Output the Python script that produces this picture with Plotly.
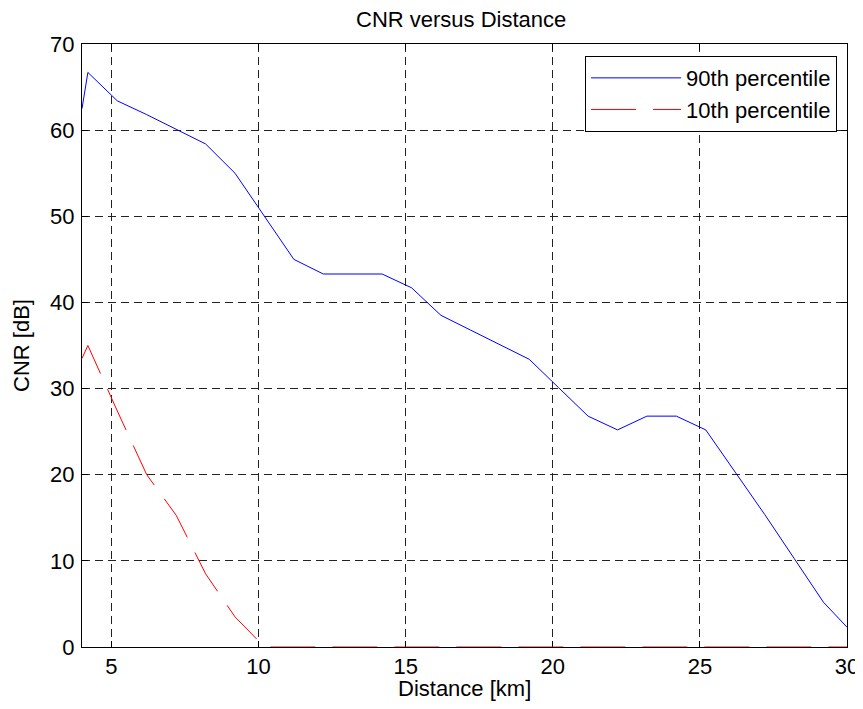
import plotly.graph_objects as go

distance_km = [4.0, 4.2, 5.2, 6.2, 7.2, 8.2, 9.2, 10.2, 11.2, 12.2, 13.2, 14.2,
               15.2, 16.2, 17.2, 18.2, 19.2, 20.2, 21.2, 22.2, 23.2, 24.2, 25.2,
               26.2, 27.2, 28.2, 29.2, 30.0]
cnr_90th = [62.5, 66.7, 63.4, 61.8, 60.1, 58.4, 55.0, 50.0, 45.0, 43.3, 43.3, 43.3,
            41.7, 38.5, 36.8, 35.1, 33.4, 30.1, 26.8, 25.2, 26.8, 26.8, 25.2,
            20.3, 15.4, 10.3, 5.2, 2.3]
cnr_10th = [33.5, 35.0, 27.4, 20.0, 15.3, 8.5, 3.5, 0, 0, 0, 0, 0,
            0, 0, 0, 0, 0, 0, 0, 0, 0, 0, 0,
            0, 0, 0, 0, 0]
x_ticks = [5, 10, 15, 20, 25, 30]
y_ticks = [0, 10, 20, 30, 40, 50, 60, 70]

FONT = "Liberation Sans, Arial, sans-serif"
FS = 22

fig = go.Figure()
fig.add_trace(go.Scatter(x=distance_km, y=cnr_90th, mode="lines", name="90th percentile",
                         line=dict(color="#0000ff", width=1), cliponaxis=False))
fig.add_trace(go.Scatter(x=distance_km, y=cnr_10th, mode="lines", name="10th percentile",
                         line=dict(color="#ff0000", width=1, dash="45px,17px"), cliponaxis=False))

axis_common = dict(
    showline=True, linecolor="black", linewidth=1, mirror="ticks",
    ticks="inside", ticklen=6, tickcolor="black", tickwidth=1,
    showgrid=True, gridcolor="#222222", gridwidth=1, griddash="8px,5px",
    zeroline=False, layer="below traces", automargin=True,
    tickfont=dict(family=FONT, size=FS, color="black"),
)

fig.update_xaxes(range=[4, 30], tickvals=x_ticks, ticktext=[str(v) for v in x_ticks],
                 **axis_common)
fig.update_yaxes(range=[0, 70], tickvals=y_ticks, ticktext=[str(v) for v in y_ticks],
                 ticklabelstandoff=2,
                 title=dict(text="CNR [dB]", font=dict(family=FONT, size=FS, color="black"),
                            standoff=14),
                 **axis_common)

fig.add_annotation(text="Distance [km]", xref="paper", yref="paper", x=0.5, y=0,
                   xanchor="center", yanchor="middle", yshift=-41, showarrow=False,
                   font=dict(family=FONT, size=FS, color="black"))

fig.update_layout(
    width=855, height=693,
    margin=dict(l=74, r=16, t=36, b=54, autoexpand=False),
    paper_bgcolor="white", plot_bgcolor="white",
    font=dict(family=FONT, size=FS, color="black"),
    title=dict(text="CNR versus Distance", x=0.530, xanchor="center",
               y=1 - 11 / 693, yanchor="middle", yref="container",
               font=dict(family=FONT, size=FS, color="black")),
    legend=dict(x=0.987, y=0.98, xanchor="right", yanchor="top",
                bgcolor="white", bordercolor="black", borderwidth=1,
                itemwidth=90,
                font=dict(family=FONT, size=FS, color="black")),
    showlegend=True,
)

fig.write_html("out.html")
